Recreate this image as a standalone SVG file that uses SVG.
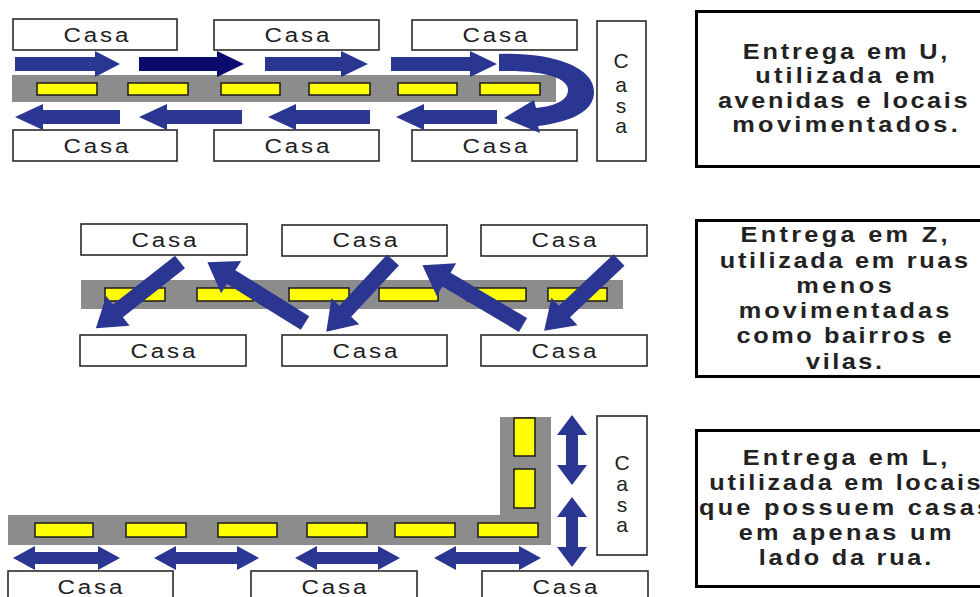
<svg xmlns="http://www.w3.org/2000/svg" width="980" height="597" viewBox="0 0 980 597">
  <style>
    .casa { fill: #ffffff; stroke: #2a2a2a; stroke-width: 1.6; }
    .casa-t { font-family: "Liberation Sans", Arial, sans-serif; font-size: 21px; fill: #222222; text-anchor: middle; }
    .road { fill: #8c8c8c; }
    .dash { fill: #ffff00; stroke: #1a1a1a; stroke-width: 1.5; }
    .arrow { fill: #2b3592; }
    .arrow-dark { fill: #0b0b6e; }
    .note { fill: #ffffff; stroke: #000000; stroke-width: 3; }
    .note-t { font-family: "Liberation Sans", Arial, sans-serif; font-size: 22px; font-weight: bold; fill: #222222; text-anchor: middle; }
  </style>
  <rect width="980" height="597" fill="#ffffff"/>

  <!-- ===== U delivery ===== -->
  <g id="u-road">
    <rect class="road" x="12" y="75" width="544" height="27"/>
    <rect class="dash" x="37" y="83" width="60" height="12"/>
    <rect class="dash" x="128" y="83" width="60" height="12"/>
    <rect class="dash" x="221" y="83" width="59" height="12"/>
    <rect class="dash" x="309" y="83" width="61" height="12"/>
    <rect class="dash" x="398" y="83" width="59" height="12"/>
    <rect class="dash" x="480" y="83" width="60" height="12"/>
  </g>
  <!-- house labels: slightly widened glyphs, spread to 65px -->
  <g id="u-casa-top-1"><rect class="casa" x="13" y="19" width="164" height="31"/><text class="casa-t" transform="translate(96,42) scale(1.15,1)" textLength="56.5">Casa</text></g>
  <g id="u-casa-top-2"><rect class="casa" x="214" y="20" width="165" height="30"/><text class="casa-t" transform="translate(297,42) scale(1.15,1)" textLength="56.5">Casa</text></g>
  <g id="u-casa-top-3"><rect class="casa" x="412" y="20" width="165" height="30"/><text class="casa-t" transform="translate(495,42) scale(1.15,1)" textLength="56.5">Casa</text></g>
  <g id="u-casa-bot-1"><rect class="casa" x="13" y="130" width="164" height="31"/><text class="casa-t" transform="translate(96,153) scale(1.15,1)" textLength="56.5">Casa</text></g>
  <g id="u-casa-bot-2"><rect class="casa" x="214" y="130" width="165" height="31"/><text class="casa-t" transform="translate(297,153) scale(1.15,1)" textLength="56.5">Casa</text></g>
  <g id="u-casa-bot-3"><rect class="casa" x="412" y="130" width="165" height="31"/><text class="casa-t" transform="translate(495,153) scale(1.15,1)" textLength="56.5">Casa</text></g>
  <g id="u-casa-end">
    <rect class="casa" x="597" y="21" width="49" height="140"/>
    <text class="casa-t" x="621" y="68">C</text>
    <text class="casa-t" x="621" y="92">a</text>
    <text class="casa-t" x="621" y="113">s</text>
    <text class="casa-t" x="621" y="133">a</text>
  </g>
  <g id="u-connectors">
    <path class="arrow" d="M15,57 H95 V51 L120,64 L95,77 V71 H15 Z"/>
    <path class="arrow-dark" d="M139,57 H217 V51 L244,64 L217,77 V71 H139 Z"/>
    <path class="arrow" d="M265,57 H341 V51 L368,64 L341,77 V71 H265 Z"/>
    <path class="arrow" d="M391,57 H470 V51 L497,64 L470,77 V71 H391 Z"/>
    <path class="arrow" d="M15,117 L43,104 V110 H120 V124 H43 V130 Z"/>
    <path class="arrow" d="M139,117 L167,104 V110 H242 V124 H167 V130 Z"/>
    <path class="arrow" d="M268,117 L296,104 V110 H370 V124 H296 V130 Z"/>
    <path class="arrow" d="M396,117 L424,104 V110 H497 V124 H424 V130 Z"/>
    <!-- U-turn at the end of the street -->
    <path class="arrow" d="M499,54 C550,52 594,66 594,92 C594,112 570,122 538,126 L540,133 L504,118 L534,100 L536,108 C556,106 568,100 568,90 C568,78 545,70 499,71 Z"/>
  </g>
  <!-- notes: glyphs widened by 1.15, lines spread to their printed widths -->
  <g id="u-note">
    <rect class="note" x="696.5" y="11.5" width="300" height="155"/>
    <g transform="translate(845,0) scale(1.15,1)">
      <text class="note-t" y="59" textLength="178">Entrega em U,</text>
      <text class="note-t" y="83" textLength="156">utilizada em</text>
      <text class="note-t" x="-2" y="108" textLength="217">avenidas e locais</text>
      <text class="note-t" y="132" textLength="196">movimentados.</text>
    </g>
  </g>

  <!-- ===== Z delivery ===== -->
  <g id="z-road">
    <rect class="road" x="81" y="280" width="542" height="29"/>
    <rect class="dash" x="105" y="288" width="60" height="13"/>
    <rect class="dash" x="197" y="288" width="56" height="13"/>
    <rect class="dash" x="289" y="288" width="60" height="13"/>
    <rect class="dash" x="379" y="288" width="59" height="13"/>
    <rect class="dash" x="467" y="288" width="59" height="13"/>
    <rect class="dash" x="548" y="288" width="59" height="13"/>
  </g>
  <g id="z-casa-top-1"><rect class="casa" x="81" y="224" width="166" height="31"/><text class="casa-t" transform="translate(164,247) scale(1.15,1)" textLength="56.5">Casa</text></g>
  <g id="z-casa-top-2"><rect class="casa" x="282" y="225" width="165" height="31"/><text class="casa-t" transform="translate(365,247) scale(1.15,1)" textLength="56.5">Casa</text></g>
  <g id="z-casa-top-3"><rect class="casa" x="481" y="225" width="166" height="31"/><text class="casa-t" transform="translate(564,247) scale(1.15,1)" textLength="56.5">Casa</text></g>
  <g id="z-casa-bot-1"><rect class="casa" x="80" y="335" width="166" height="31"/><text class="casa-t" transform="translate(163,358) scale(1.15,1)" textLength="56.5">Casa</text></g>
  <g id="z-casa-bot-2"><rect class="casa" x="282" y="335" width="165" height="31"/><text class="casa-t" transform="translate(365,358) scale(1.15,1)" textLength="56.5">Casa</text></g>
  <g id="z-casa-bot-3"><rect class="casa" x="481" y="335" width="166" height="31"/><text class="casa-t" transform="translate(564,358) scale(1.15,1)" textLength="56.5">Casa</text></g>
  <g id="z-connectors">
    <path class="arrow" transform="translate(180,262) rotate(141.8)" d="M0,-8 H79 V-19 L107,0 L79,19 V8 H0 Z"/>
    <path class="arrow" transform="translate(305,323) rotate(-148.1)" d="M0,-8 H87 V-19 L115,0 L87,19 V8 H0 Z"/>
    <path class="arrow" transform="translate(393,260) rotate(132.9)" d="M0,-8 H70 V-19 L98,0 L70,19 V8 H0 Z"/>
    <path class="arrow" transform="translate(523,325) rotate(-149.3)" d="M0,-8 H89 V-19 L117,0 L89,19 V8 H0 Z"/>
    <path class="arrow" transform="translate(619,260) rotate(136.6)" d="M0,-8 H75 V-19 L103,0 L75,19 V8 H0 Z"/>
  </g>
  <g id="z-note">
    <rect class="note" x="696.5" y="220.5" width="300" height="156"/>
    <g transform="translate(844,0) scale(1.15,1)">
      <text class="note-t" y="242" textLength="180">Entrega em Z,</text>
      <text class="note-t" y="268" textLength="216">utilizada em ruas</text>
      <text class="note-t" y="293" textLength="83">menos</text>
      <text class="note-t" y="318" textLength="183">movimentadas</text>
      <text class="note-t" y="343" textLength="187">como bairros e</text>
      <text class="note-t" y="369" textLength="66">vilas.</text>
    </g>
  </g>

  <!-- ===== L delivery ===== -->
  <g id="l-road">
    <path class="road" d="M8,515 H500 V417 H551 V545 H8 Z"/>
    <rect class="dash" x="35" y="523" width="58" height="14"/>
    <rect class="dash" x="126" y="523" width="60" height="14"/>
    <rect class="dash" x="218" y="523" width="59" height="14"/>
    <rect class="dash" x="307" y="523" width="60" height="14"/>
    <rect class="dash" x="395" y="523" width="60" height="14"/>
    <rect class="dash" x="478" y="523" width="60" height="14"/>
    <rect class="dash" x="514" y="418" width="21" height="38"/>
    <rect class="dash" x="514" y="469" width="21" height="39"/>
  </g>
  <g id="l-casa-end">
    <rect class="casa" x="597" y="416" width="50" height="139"/>
    <text class="casa-t" x="622" y="470">C</text>
    <text class="casa-t" x="622" y="491">a</text>
    <text class="casa-t" x="622" y="512">s</text>
    <text class="casa-t" x="622" y="532">a</text>
  </g>
  <g id="l-casa-bot-1"><rect class="casa" x="8" y="571" width="165" height="34"/><text class="casa-t" transform="translate(90,594) scale(1.15,1)" textLength="56.5">Casa</text></g>
  <g id="l-casa-bot-2"><rect class="casa" x="251" y="571" width="166" height="34"/><text class="casa-t" transform="translate(334,594) scale(1.15,1)" textLength="56.5">Casa</text></g>
  <g id="l-casa-bot-3"><rect class="casa" x="482" y="571" width="166" height="34"/><text class="casa-t" transform="translate(565,594) scale(1.15,1)" textLength="56.5">Casa</text></g>
  <g id="l-connectors">
    <path class="arrow" d="M572,415 L587,435 H578 V465 H587 L572,485 L557,465 H566 V435 H557 Z"/>
    <path class="arrow" d="M572,497 L587,517 H578 V547 H587 L572,567 L557,547 H566 V517 H557 Z"/>
    <path class="arrow" d="M13,558 L35,546 V552 H98 V546 L120,558 L98,570 V564 H35 V570 Z"/>
    <path class="arrow" d="M154,558 L176,546 V552 H237 V546 L259,558 L237,570 V564 H176 V570 Z"/>
    <path class="arrow" d="M295,558 L317,546 V552 H378 V546 L400,558 L378,570 V564 H317 V570 Z"/>
    <path class="arrow" d="M434,558 L456,546 V552 H519 V546 L541,558 L519,570 V564 H456 V570 Z"/>
  </g>
  <g id="l-note">
    <rect class="note" x="696.5" y="430.5" width="300" height="156"/>
    <g transform="translate(845,0) scale(1.15,1)">
      <text class="note-t" y="465" textLength="178">Entrega em L,</text>
      <text class="note-t" y="490" textLength="236">utilizada em locais</text>
      <text class="note-t" y="515" textLength="254">que possuem casas</text>
      <text class="note-t" y="540" textLength="185">em apenas um</text>
      <text class="note-t" y="565" textLength="150">lado da rua.</text>
    </g>
  </g>
</svg>
